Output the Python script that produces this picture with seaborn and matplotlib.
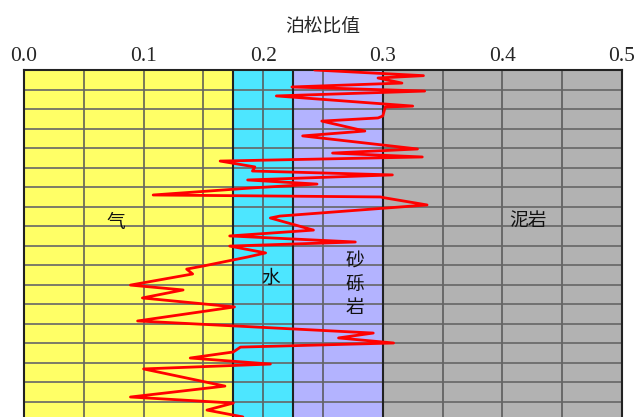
import numpy as np
import pandas as pd
import matplotlib
matplotlib.use("Agg")
import matplotlib.pyplot as plt
import seaborn as sns

# 泊松比值 curve (x) vs. depth step (y, top = 0)
poisson = [0.243, 0.334, 0.296, 0.316, 0.224, 0.335, 0.211, 0.325, 0.302, 0.300,
           0.296, 0.249, 0.285, 0.233, 0.329, 0.258, 0.333, 0.164, 0.193, 0.191,
           0.308, 0.187, 0.245, 0.190, 0.108, 0.298, 0.302, 0.337, 0.214, 0.206,
           0.242, 0.172, 0.277, 0.172, 0.202, 0.187, 0.150, 0.136, 0.141, 0.089,
           0.133, 0.099, 0.176, 0.095, 0.292, 0.263, 0.309, 0.181, 0.175, 0.139,
           0.206, 0.100, 0.168, 0.089, 0.175, 0.153, 0.183, 0.176]
depth = [0.00, 0.29, 0.41, 0.67, 0.87, 1.08, 1.33, 1.85, 1.90, 2.36,
         2.46, 2.62, 3.13, 3.38, 4.05, 4.26, 4.46, 4.67, 4.97, 5.18,
         5.38, 5.64, 5.85, 6.05, 6.41, 6.51, 6.56, 6.92, 7.49, 7.59,
         8.21, 8.51, 8.82, 9.03, 9.38, 9.59, 10.05, 10.21, 10.46, 11.03,
         11.28, 11.69, 12.15, 12.87, 13.49, 13.74, 14.00, 14.21, 14.46, 14.77,
         15.08, 15.33, 16.21, 16.77, 17.08, 17.44, 17.79, 18.10]

# lithology / fluid zones
zone_edges = [0.0, 0.175, 0.225, 0.3, 0.5]
zone_colors = ["#FFFF66", "#4DE6FF", "#B3B3FF", "#B2B2B2"]
zone_labels = ["气", "水", "砂\n砾\n岩", "泥岩"]
label_x = [0.077, 0.206, 0.277, 0.421]
label_y = [7.8, 10.7, 11.0, 7.7]

xticks = [0.0, 0.1, 0.2, 0.3, 0.4, 0.5]
xtick_labels = ["0.0", "0.1", "0.2", "0.3", "0.4", "0.5"]

df = pd.DataFrame({"poisson": poisson, "depth": depth})

sns.set_style("white")
plt.rcParams["font.family"] = ["Liberation Serif", "Noto Sans CJK SC", "DejaVu Sans"]

fig = plt.figure(figsize=(6.36, 4.17), dpi=100)
ax = fig.add_axes([24 / 636, -4 / 417, 598 / 636, 351 / 417])

for i in range(len(zone_colors)):
    ax.axvspan(zone_edges[i], zone_edges[i + 1], color=zone_colors[i], zorder=0, lw=0)

# grid
for gx in np.arange(0.05, 0.5, 0.05):
    ax.axvline(gx, color="#555555", lw=1.1, zorder=1)
for gy in range(1, 18):
    ax.axhline(gy, color="#666666", lw=1.2, zorder=1)
for e in zone_edges[1:-1]:
    ax.axvline(e, color="#222222", lw=1.5, zorder=1)

sns.lineplot(data=df, x="poisson", y="depth", sort=False, estimator=None,
             color="#FF0000", lw=2, ax=ax, zorder=3)

for lab, lx, ly in zip(zone_labels, label_x, label_y):
    ax.text(lx, ly, lab, ha="center", va="center", fontsize=13.5,
            family=["Noto Sans CJK SC", "DejaVu Sans"], color="#111111",
            linespacing=1.15, zorder=4)

ax.set_xlim(0, 0.5)
ax.set_ylim(18, 0)
ax.xaxis.tick_top()
ax.xaxis.set_label_position("top")
ax.set_xticks(xticks)
ax.set_xticklabels(xtick_labels, fontsize=15.5)
ax.tick_params(axis="x", length=0, pad=3)
ax.set_yticks([])
ax.set_ylabel("")
ax.set_xlabel("泊松比值", fontsize=13.5, family=["Noto Sans CJK SC", "DejaVu Sans"],
              labelpad=11)
for s in ax.spines.values():
    s.set_color("#222222")
    s.set_linewidth(1.5)

fig.savefig("out.png", dpi=100)
